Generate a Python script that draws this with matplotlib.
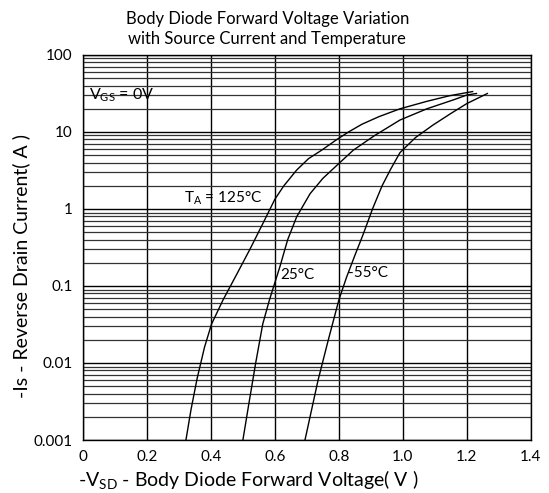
import matplotlib
matplotlib.use('Agg')
import matplotlib.pyplot as plt
from matplotlib.ticker import LogLocator, NullFormatter

plt.rcParams['font.family'] = ['Lato', 'DejaVu Sans']

# readings: -Vsd (V) and -Is (A)
v_125 = [0.322, 0.338, 0.357, 0.380, 0.402, 0.438, 0.480, 0.522, 0.561, 0.600, 0.628, 0.668,
         0.705, 0.746, 0.792, 0.830, 0.872, 0.925, 0.991, 1.075, 1.145, 1.218]
i_125 = [0.001, 0.0025, 0.0063, 0.016, 0.032, 0.066, 0.14, 0.30, 0.63, 1.34, 2.0, 3.2,
         4.5, 5.8, 7.9, 10, 12.6, 15.8, 20, 25, 29.5, 33.5]

v_25 = [0.500, 0.520, 0.540, 0.562, 0.583, 0.616, 0.640, 0.668, 0.710, 0.750, 0.800,
        0.845, 0.910, 0.991, 1.075, 1.160, 1.200, 1.230]
i_25 = [0.001, 0.0032, 0.01, 0.032, 0.066, 0.18, 0.4, 0.79, 1.58, 2.5, 3.9,
        5.8, 8.9, 14.3, 20, 26.3, 30.2, 31.6]

v_m55 = [0.694, 0.715, 0.735, 0.767, 0.800, 0.824, 0.850, 0.876, 0.905, 0.935, 0.962,
         0.991, 1.040, 1.094, 1.150, 1.200, 1.264]
i_m55 = [0.001, 0.0025, 0.006, 0.02, 0.066, 0.13, 0.25, 0.47, 1.0, 2.0, 3.3,
         5.4, 8.5, 12.3, 17.4, 23.4, 31.6]

x_ticks = [0, 0.2, 0.4, 0.6, 0.8, 1.0, 1.2, 1.4]
x_labels = ['0', '0.2', '0.4', '0.6', '0.8', '1.0', '1.2', '1.4']
y_ticks = [0.001, 0.01, 0.1, 1, 10, 100]
y_labels = ['0.001', '0.01', '0.1', '1', '10', '100']

fig = plt.figure(figsize=(5.49, 4.93), dpi=100)
ax = fig.add_axes([0.151, 0.1075, 0.816, 0.781])
ax.set_yscale('log')
ax.set_xlim(0, 1.4)
ax.set_ylim(0.001, 100)

ax.plot(v_125, i_125, color='black', lw=1)
ax.plot(v_25, i_25, color='black', lw=1)
ax.plot(v_m55, i_m55, color='black', lw=1)

ax.set_xticks(x_ticks)
ax.set_xticklabels(x_labels)
ax.set_yticks(y_ticks)
ax.set_yticklabels(y_labels)
ax.yaxis.set_minor_locator(LogLocator(base=10, subs=range(2, 10)))
ax.yaxis.set_minor_formatter(NullFormatter())
ax.grid(which='major', axis='both', color='black', lw=1)
ax.grid(which='minor', axis='y', color='#333333', lw=0.9)
ax.tick_params(which='both', length=0, labelsize=11, pad=7.5)
for s in ax.spines.values():
    s.set_color('black')
    s.set_linewidth(1)

ax.text(0.018, 30, r'V$_\mathregular{GS}$ = 0V', fontsize=11.5, va='center', ha='left')
ax.text(0.56, 1.39, r'T$_\mathregular{A}$ = 125°C', fontsize=11, va='center', ha='right')
ax.text(0.616, 0.139, '25°C', fontsize=11, va='center', ha='left')
ax.text(0.828, 0.146, '-55°C', fontsize=11, va='center', ha='left')

fig.text(0.487, 0.941, 'Body Diode Forward Voltage Variation\nwith Source Current and Temperature',
         ha='center', va='center', fontsize=12, linespacing=1.3)
fig.text(0.452, 0.026, r'-V$_\mathregular{SD}$ - Body Diode Forward Voltage( V )',
         ha='center', va='center', fontsize=14)
fig.text(0.038, 0.46, '-Is - Reverse Drain Current( A )', rotation=90,
         ha='center', va='center', fontsize=14)

fig.savefig('out.png', dpi=100)
